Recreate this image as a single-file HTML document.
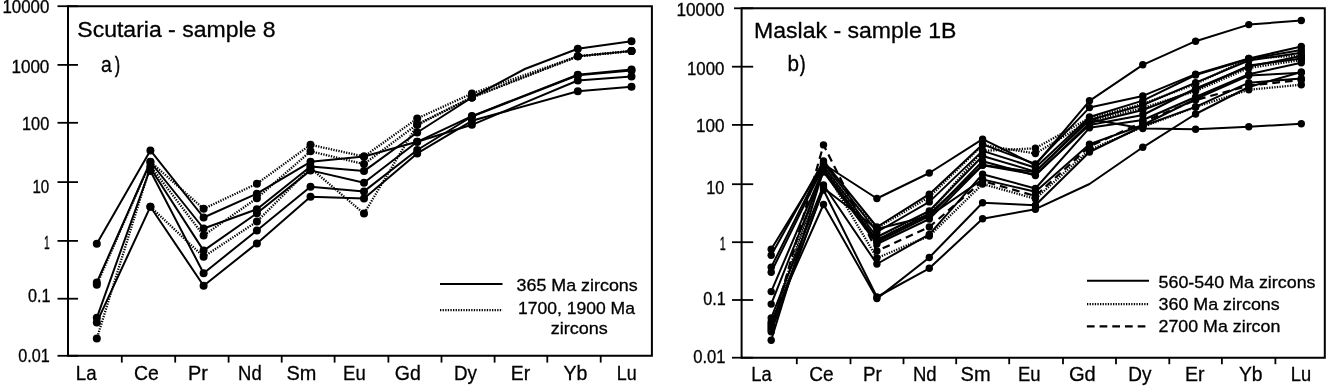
<!DOCTYPE html>
<html><head><meta charset="utf-8"><title>REE patterns</title>
<style>
html,body{margin:0;padding:0;background:#fff;}
body{width:1327px;height:386px;overflow:hidden;position:relative;font-family:"Liberation Sans",sans-serif;}
svg{position:absolute;left:0;top:0;display:block;filter:blur(0.35px);}
text{font-family:"Liberation Sans",sans-serif;fill:#000;stroke:#000;stroke-width:0.3px;}
.ax{stroke:#000;stroke-width:2;fill:none;stroke-linecap:butt;}
.tk{stroke:#000;stroke-width:1.8;fill:none;}
.ls{stroke:#000;stroke-width:2;fill:none;stroke-linejoin:round;}
.ld{stroke:#000;stroke-width:2.3;fill:none;stroke-dasharray:1.3 1.3;}
.lh{stroke:#000;stroke-width:2.2;fill:none;stroke-dasharray:7.7 5;}
.mk circle{fill:#000;}
.pp{stroke-width:0.7px;}
.yl{font-size:16.8px;text-anchor:end;}
.xl{font-size:20.5px;}
.tt{font-size:21.4px;}
.lg{font-size:16.6px;}
</style></head><body>
<svg width="1327" height="386" viewBox="0 0 1327 386">
<rect x="0" y="0" width="1327" height="386" fill="#fff"/>

<!-- left panel frame -->
<path class="ax" d="M68.0 6.2 H651.9 V355.8 H68.0 Z"/>
<path class="tk" d="M57.5 6.2 H78.0"/>
<text transform="translate(2.50 12.80) scale(0.9586 1)" font-size="17.60">10000</text>
<path class="tk" d="M57.5 64.9 H78.0"/>
<text transform="translate(11.40 73.00) scale(0.9704 1)" font-size="17.60">1000</text>
<path class="tk" d="M57.5 122.8 H78.0"/>
<text transform="translate(22.00 129.70) scale(0.9268 1)" font-size="17.60">100</text>
<path class="tk" d="M57.5 182.1 H78.0"/>
<text transform="translate(32.40 192.90) scale(0.8580 1)" font-size="17.60">10</text>
<path class="tk" d="M57.5 240.9 H78.0"/>
<text transform="translate(44.00 248.60) scale(0.5835 1)" font-size="17.60">1</text>
<path class="tk" d="M57.5 298.7 H78.0"/>
<text transform="translate(28.00 302.20) scale(0.9197 1)" font-size="17.60">0.1</text>
<path class="tk" d="M57.5 355.8 H78.0"/>
<text transform="translate(18.30 362.00) scale(0.9190 1)" font-size="17.60">0.01</text>
<path class="tk" d="M121.8 355.8 V362.6"/>
<path class="tk" d="M175.2 355.8 V362.6"/>
<path class="tk" d="M228.6 355.8 V362.6"/>
<path class="tk" d="M281.7 355.8 V362.6"/>
<path class="tk" d="M334.6 355.8 V362.6"/>
<path class="tk" d="M388.4 355.8 V362.6"/>
<path class="tk" d="M441.5 355.8 V362.6"/>
<path class="tk" d="M494.6 355.8 V362.6"/>
<path class="tk" d="M547.3 355.8 V362.6"/>
<path class="tk" d="M600.7 355.8 V362.6"/>
<text transform="translate(75.80 379.50) scale(0.8903 1)" font-size="21.00">La</text>
<text transform="translate(133.90 379.50) scale(0.9244 1)" font-size="21.00">Ce</text>
<text transform="translate(188.10 379.50) scale(0.9476 1)" font-size="21.00">Pr</text>
<text transform="translate(238.10 379.50) scale(0.8797 1)" font-size="21.00">Nd</text>
<text transform="translate(286.40 379.50) scale(0.9492 1)" font-size="21.00">Sm</text>
<text transform="translate(343.10 379.50) scale(0.8803 1)" font-size="21.00">Eu</text>
<text transform="translate(394.70 379.50) scale(0.9310 1)" font-size="21.00">Gd</text>
<text transform="translate(453.90 379.50) scale(0.8959 1)" font-size="21.00">Dy</text>
<text transform="translate(510.70 379.50) scale(0.9238 1)" font-size="21.00">Er</text>
<text transform="translate(563.40 379.50) scale(0.9310 1)" font-size="21.00">Yb</text>
<text transform="translate(616.80 379.50) scale(0.8518 1)" font-size="21.00">Lu</text>
<text transform="translate(77.30 37.40) scale(1.0235 1)" font-size="22.50">Scutaria - sample 8</text>
<text transform="translate(101.00 72.20) scale(0.8572 1)" font-size="22.60">a</text>
<text class="pp" transform="translate(114.90 71.80) scale(0.6835 1)" font-size="22.00">)</text>
<path class="ls" style="stroke-width:1.1" d="M577.8 56.3 L631.5 51.0"/>
<path class="ls" d="M96.8 243.8 L150.4 150.4 L203.6 217.5 L256.9 193.7 L310.5 161.8 L364.0 156.5 L417.2 141.8 L471.9 124.8 L577.8 80.5 L631.5 76.4"/>
<path class="ls" d="M96.8 282.4 L150.4 162.0 L203.6 228.5 L256.9 209.2 L310.5 166.5 L364.0 171.1 L417.2 132.5 L471.9 97.5 L524.8 69.0 L577.8 48.8 L631.5 41.2"/>
<path class="ls" d="M96.8 317.8 L150.4 168.0 L203.6 250.6 L256.9 213.3 L310.5 170.4 L364.0 182.8 L417.2 141.8 L471.9 116.1 L577.8 74.7 L631.5 69.6"/>
<path class="ls" d="M150.4 171.0 L203.6 273.2 L256.9 230.5 L310.5 186.8 L364.0 191.4 L417.2 150.0 L471.9 116.5 L577.8 75.2 L631.5 70.6"/>
<path class="ls" d="M96.8 322.4 L150.4 206.7 L203.6 285.7 L256.9 243.4 L310.5 196.8 L364.0 198.4 L417.2 153.4 L471.9 120.8 L577.8 91.3 L631.5 86.8"/>
<path class="ld" d="M96.8 284.7 L150.4 161.8 L203.6 208.8 L256.9 183.7 L310.5 144.8 L364.0 156.5 L417.2 118.5 L471.9 93.5 L577.8 56.3 L631.5 51.0"/>
<path class="ld" stroke-dashoffset="0.9" d="M96.8 338.6 L150.4 166.0 L203.6 235.5 L256.9 198.2 L310.5 151.3 L364.0 164.1 L417.2 124.3 L471.9 97.4 L577.8 56.3 L631.5 51.0"/>
<path class="ld" stroke-dashoffset="1.7" d="M150.4 206.7 L203.6 256.8 L256.9 221.6 L310.5 168.0 L364.0 213.6 L417.2 125.0 L471.9 97.4 L577.8 56.3 L631.5 51.0"/>
<g class="mk"><circle cx="96.8" cy="243.8" r="4.00"/><circle cx="150.4" cy="150.4" r="4.00"/><circle cx="203.6" cy="217.5" r="4.00"/><circle cx="256.9" cy="193.7" r="4.00"/><circle cx="310.5" cy="161.8" r="4.00"/><circle cx="364.0" cy="156.5" r="4.00"/><circle cx="417.2" cy="141.8" r="4.00"/><circle cx="471.9" cy="124.8" r="4.00"/><circle cx="577.8" cy="80.5" r="4.00"/><circle cx="631.5" cy="76.4" r="4.00"/><circle cx="96.8" cy="282.4" r="4.00"/><circle cx="150.4" cy="162.0" r="4.00"/><circle cx="203.6" cy="228.5" r="4.00"/><circle cx="256.9" cy="209.2" r="4.00"/><circle cx="310.5" cy="166.5" r="4.00"/><circle cx="364.0" cy="171.1" r="4.00"/><circle cx="417.2" cy="132.5" r="4.00"/><circle cx="471.9" cy="97.5" r="4.00"/><circle cx="577.8" cy="48.8" r="4.00"/><circle cx="631.5" cy="41.2" r="4.00"/><circle cx="96.8" cy="317.8" r="4.00"/><circle cx="150.4" cy="168.0" r="4.00"/><circle cx="203.6" cy="250.6" r="4.00"/><circle cx="256.9" cy="213.3" r="4.00"/><circle cx="310.5" cy="170.4" r="4.00"/><circle cx="364.0" cy="182.8" r="4.00"/><circle cx="417.2" cy="141.8" r="4.00"/><circle cx="471.9" cy="116.1" r="4.00"/><circle cx="577.8" cy="74.7" r="4.00"/><circle cx="631.5" cy="69.6" r="4.00"/><circle cx="150.4" cy="171.0" r="4.00"/><circle cx="203.6" cy="273.2" r="4.00"/><circle cx="256.9" cy="230.5" r="4.00"/><circle cx="310.5" cy="186.8" r="4.00"/><circle cx="364.0" cy="191.4" r="4.00"/><circle cx="417.2" cy="150.0" r="4.00"/><circle cx="471.9" cy="116.5" r="4.00"/><circle cx="577.8" cy="75.2" r="4.00"/><circle cx="631.5" cy="70.6" r="4.00"/><circle cx="96.8" cy="322.4" r="4.00"/><circle cx="150.4" cy="206.7" r="4.00"/><circle cx="203.6" cy="285.7" r="4.00"/><circle cx="256.9" cy="243.4" r="4.00"/><circle cx="310.5" cy="196.8" r="4.00"/><circle cx="364.0" cy="198.4" r="4.00"/><circle cx="417.2" cy="153.4" r="4.00"/><circle cx="471.9" cy="120.8" r="4.00"/><circle cx="577.8" cy="91.3" r="4.00"/><circle cx="631.5" cy="86.8" r="4.00"/><circle cx="96.8" cy="284.7" r="4.00"/><circle cx="150.4" cy="161.8" r="4.00"/><circle cx="203.6" cy="208.8" r="4.00"/><circle cx="256.9" cy="183.7" r="4.00"/><circle cx="310.5" cy="144.8" r="4.00"/><circle cx="364.0" cy="156.5" r="4.00"/><circle cx="417.2" cy="118.5" r="4.00"/><circle cx="471.9" cy="93.5" r="4.00"/><circle cx="577.8" cy="56.3" r="4.00"/><circle cx="631.5" cy="51.0" r="4.00"/><circle cx="96.8" cy="338.6" r="4.00"/><circle cx="150.4" cy="166.0" r="4.00"/><circle cx="203.6" cy="235.5" r="4.00"/><circle cx="256.9" cy="198.2" r="4.00"/><circle cx="310.5" cy="151.3" r="4.00"/><circle cx="364.0" cy="164.1" r="4.00"/><circle cx="417.2" cy="124.3" r="4.00"/><circle cx="471.9" cy="97.4" r="4.00"/><circle cx="577.8" cy="56.3" r="4.00"/><circle cx="631.5" cy="51.0" r="4.00"/><circle cx="150.4" cy="206.7" r="4.00"/><circle cx="203.6" cy="256.8" r="4.00"/><circle cx="256.9" cy="221.6" r="4.00"/><circle cx="310.5" cy="168.0" r="4.00"/><circle cx="364.0" cy="213.6" r="4.00"/><circle cx="417.2" cy="125.0" r="4.00"/><circle cx="471.9" cy="97.4" r="4.00"/><circle cx="577.8" cy="56.3" r="4.00"/><circle cx="631.5" cy="51.0" r="4.00"/></g>
<path class="ls" style="stroke-width:2" d="M440 284 H502.5"/>
<path class="ld" d="M440 310.2 H502.5"/>
<text transform="translate(516.60 291.00) scale(1.0641 1)" font-size="16.80">365 Ma zircons</text>
<text transform="translate(518.00 313.70) scale(1.0437 1)" font-size="16.80">1700, 1900 Ma</text>
<text transform="translate(550.80 333.80) scale(1.0711 1)" font-size="16.80">zircons</text>
<!-- right panel frame -->
<path class="ax" d="M741.6 8.3 H1324.8 V357.7 H741.6 Z"/>
<path class="tk" d="M734.0 8.3 H753.2"/>
<text transform="translate(676.40 16.00) scale(0.9810 1)" font-size="17.60">10000</text>
<path class="tk" d="M732.0 66.7 H753.2"/>
<text transform="translate(687.00 75.10) scale(0.9551 1)" font-size="17.60">1000</text>
<path class="tk" d="M732.0 124.9 H753.2"/>
<text transform="translate(695.90 131.50) scale(0.9711 1)" font-size="17.60">100</text>
<path class="tk" d="M732.0 184.2 H753.2"/>
<text transform="translate(706.30 194.20) scale(0.9244 1)" font-size="17.60">10</text>
<path class="tk" d="M732.0 242.2 H753.2"/>
<text transform="translate(719.70 250.40) scale(0.6143 1)" font-size="17.60">1</text>
<path class="tk" d="M732.0 300.0 H753.2"/>
<text transform="translate(703.20 305.30) scale(0.9197 1)" font-size="17.60">0.1</text>
<path class="tk" d="M732.0 357.7 H753.2"/>
<text transform="translate(693.20 363.40) scale(0.9424 1)" font-size="17.60">0.01</text>
<path class="tk" d="M796.8 357.7 V364.2"/>
<path class="tk" d="M850.5 357.7 V364.2"/>
<path class="tk" d="M903.5 357.7 V364.2"/>
<path class="tk" d="M956.2 357.7 V364.2"/>
<path class="tk" d="M1009.2 357.7 V364.2"/>
<path class="tk" d="M1063.0 357.7 V364.2"/>
<path class="tk" d="M1116.0 357.7 V364.2"/>
<path class="tk" d="M1169.3 357.7 V364.2"/>
<path class="tk" d="M1221.9 357.7 V364.2"/>
<path class="tk" d="M1275.4 357.7 V364.2"/>
<text transform="translate(751.20 380.70) scale(0.8732 1)" font-size="21.00">La</text>
<text transform="translate(809.30 380.70) scale(0.9095 1)" font-size="21.00">Ce</text>
<text transform="translate(863.00 380.70) scale(0.8952 1)" font-size="21.00">Pr</text>
<text transform="translate(912.90 380.70) scale(0.8834 1)" font-size="21.00">Nd</text>
<text transform="translate(960.60 380.70) scale(0.9556 1)" font-size="21.00">Sm</text>
<text transform="translate(1018.00 380.70) scale(0.8803 1)" font-size="21.00">Eu</text>
<text transform="translate(1068.90 380.70) scale(0.9595 1)" font-size="21.00">Gd</text>
<text transform="translate(1128.20 380.70) scale(0.9037 1)" font-size="21.00">Dy</text>
<text transform="translate(1185.00 380.70) scale(0.9286 1)" font-size="21.00">Er</text>
<text transform="translate(1239.00 380.70) scale(0.9193 1)" font-size="21.00">Yb</text>
<text transform="translate(1290.80 380.70) scale(0.8732 1)" font-size="21.00">Lu</text>
<text transform="translate(754.10 38.00) scale(1.0337 1)" font-size="22.30">Maslak - sample 1B</text>
<text transform="translate(787.40 71.00) scale(0.9250 1)" font-size="22.40">b</text>
<text class="pp" transform="translate(799.90 71.00) scale(0.7382 1)" font-size="22.00">)</text>
<path class="ls" d="M771.2 249.3 L823.5 164.0 L876.9 198.5 L929.3 173.0 L982.6 139.2 L1035.4 165.0 L1089.5 100.8 L1142.8 64.8 L1195.6 41.2 L1248.8 24.6 L1301.3 20.5"/>
<path class="ls" d="M771.2 255.3 L823.5 161.0 L876.9 227.0 L929.3 194.2 L982.6 144.4 L1035.4 163.9 L1089.5 107.6 L1142.8 95.9 L1195.6 74.2 L1248.8 58.5 L1301.3 46.5"/>
<path class="ls" d="M771.2 267.2 L823.5 163.0 L876.9 232.0 L929.3 201.9 L982.6 150.9 L1035.4 167.7 L1089.5 117.0 L1142.8 100.6 L1195.6 75.0 L1248.8 59.0 L1301.3 50.0"/>
<path class="ls" d="M771.2 272.2 L823.5 166.0 L876.9 237.0 L929.3 211.0 L982.6 156.0 L1035.4 171.6 L1089.5 120.0 L1142.8 105.0 L1195.6 82.7 L1248.8 60.5 L1301.3 52.8"/>
<path class="ls" d="M771.2 291.6 L823.5 169.0 L876.9 242.0 L929.3 216.0 L982.6 161.3 L1035.4 175.5 L1089.5 123.0 L1142.8 110.0 L1195.6 89.8 L1248.8 65.6 L1301.3 58.5"/>
<path class="ls" d="M771.2 304.1 L823.5 172.0 L876.9 244.0 L929.3 219.0 L982.6 165.2 L1035.4 174.5 L1089.5 125.0 L1142.8 115.0 L1195.6 88.5 L1248.8 66.5 L1301.3 56.0"/>
<path class="ls" d="M771.2 318.0 L823.5 185.0 L876.9 264.0 L929.3 234.4 L982.6 174.2 L1035.4 188.5 L1089.5 127.8 L1142.8 120.0 L1195.6 97.0 L1248.8 74.2 L1301.3 62.8"/>
<path class="ls" d="M771.2 331.8 L823.5 188.0 L876.9 229.0 L929.3 216.0 L982.6 179.4 L1035.4 191.8 L1089.5 144.2 L1142.8 125.0 L1195.6 99.0 L1248.8 75.5 L1301.3 72.7"/>
<path class="ls" d="M771.2 340.2 L823.5 170.0 L876.9 240.0 L929.3 214.0 L982.6 165.0 L1035.4 172.0 L1089.5 119.0 L1142.8 128.6 L1195.6 129.3 L1248.8 126.7 L1301.3 123.8"/>
<path class="ls" d="M771.2 322.0 L823.5 204.5 L876.9 298.6 L929.3 257.5 L982.6 202.7 L1035.4 205.3 L1089.5 152.0 L1142.8 126.0 L1195.6 106.9 L1248.8 82.7 L1301.3 78.4"/>
<path class="ls" d="M771.2 326.0 L823.5 190.0 L876.9 297.0 L929.3 268.3 L982.6 218.8 L1035.4 209.2 L1089.5 184.0 L1142.8 147.3 L1195.6 114.0 L1248.8 87.0 L1301.3 72.0"/>
<path class="ld" d="M771.2 324.0 L823.5 165.0 L876.9 240.0 L929.3 213.0 L982.6 150.9 L1035.4 148.3 L1089.5 118.0 L1142.8 104.0 L1195.6 84.0 L1248.8 58.5 L1301.3 55.6"/>
<path class="ld" d="M771.2 328.0 L823.5 168.0 L876.9 258.0 L929.3 236.0 L982.6 184.0 L1035.4 198.8 L1089.5 150.0 L1142.8 127.0 L1195.6 107.0 L1248.8 89.8 L1301.3 84.7"/>
<path class="ld" d="M823.5 171.0 L876.9 228.0 L929.3 197.0 L982.6 145.0 L1035.4 153.5 L1089.5 121.0 L1142.8 108.0 L1195.6 91.0 L1248.8 68.0 L1301.3 60.0"/>
<path class="lh" d="M771.2 330.0 L823.5 144.9 L876.9 251.0 L929.3 227.0 L982.6 181.0 L1035.4 196.0 L1089.5 146.5 L1142.8 122.0 L1195.6 100.0 L1248.8 85.6 L1301.3 79.9"/>
<g class="mk"><circle cx="771.2" cy="249.3" r="3.70"/><circle cx="823.5" cy="164.0" r="3.70"/><circle cx="876.9" cy="198.5" r="3.70"/><circle cx="929.3" cy="173.0" r="3.70"/><circle cx="982.6" cy="139.2" r="3.70"/><circle cx="1035.4" cy="165.0" r="3.70"/><circle cx="1089.5" cy="100.8" r="3.70"/><circle cx="1142.8" cy="64.8" r="3.70"/><circle cx="1195.6" cy="41.2" r="3.70"/><circle cx="1248.8" cy="24.6" r="3.70"/><circle cx="1301.3" cy="20.5" r="3.70"/><circle cx="771.2" cy="255.3" r="3.70"/><circle cx="823.5" cy="161.0" r="3.70"/><circle cx="876.9" cy="227.0" r="3.70"/><circle cx="929.3" cy="194.2" r="3.70"/><circle cx="982.6" cy="144.4" r="3.70"/><circle cx="1035.4" cy="163.9" r="3.70"/><circle cx="1089.5" cy="107.6" r="3.70"/><circle cx="1142.8" cy="95.9" r="3.70"/><circle cx="1195.6" cy="74.2" r="3.70"/><circle cx="1248.8" cy="58.5" r="3.70"/><circle cx="1301.3" cy="46.5" r="3.70"/><circle cx="771.2" cy="267.2" r="3.70"/><circle cx="823.5" cy="163.0" r="3.70"/><circle cx="876.9" cy="232.0" r="3.70"/><circle cx="929.3" cy="201.9" r="3.70"/><circle cx="982.6" cy="150.9" r="3.70"/><circle cx="1035.4" cy="167.7" r="3.70"/><circle cx="1089.5" cy="117.0" r="3.70"/><circle cx="1142.8" cy="100.6" r="3.70"/><circle cx="1195.6" cy="75.0" r="3.70"/><circle cx="1248.8" cy="59.0" r="3.70"/><circle cx="1301.3" cy="50.0" r="3.70"/><circle cx="771.2" cy="272.2" r="3.70"/><circle cx="823.5" cy="166.0" r="3.70"/><circle cx="876.9" cy="237.0" r="3.70"/><circle cx="929.3" cy="211.0" r="3.70"/><circle cx="982.6" cy="156.0" r="3.70"/><circle cx="1035.4" cy="171.6" r="3.70"/><circle cx="1089.5" cy="120.0" r="3.70"/><circle cx="1142.8" cy="105.0" r="3.70"/><circle cx="1195.6" cy="82.7" r="3.70"/><circle cx="1248.8" cy="60.5" r="3.70"/><circle cx="1301.3" cy="52.8" r="3.70"/><circle cx="771.2" cy="291.6" r="3.70"/><circle cx="823.5" cy="169.0" r="3.70"/><circle cx="876.9" cy="242.0" r="3.70"/><circle cx="929.3" cy="216.0" r="3.70"/><circle cx="982.6" cy="161.3" r="3.70"/><circle cx="1035.4" cy="175.5" r="3.70"/><circle cx="1089.5" cy="123.0" r="3.70"/><circle cx="1142.8" cy="110.0" r="3.70"/><circle cx="1195.6" cy="89.8" r="3.70"/><circle cx="1248.8" cy="65.6" r="3.70"/><circle cx="1301.3" cy="58.5" r="3.70"/><circle cx="771.2" cy="304.1" r="3.70"/><circle cx="823.5" cy="172.0" r="3.70"/><circle cx="876.9" cy="244.0" r="3.70"/><circle cx="929.3" cy="219.0" r="3.70"/><circle cx="982.6" cy="165.2" r="3.70"/><circle cx="1035.4" cy="174.5" r="3.70"/><circle cx="1089.5" cy="125.0" r="3.70"/><circle cx="1142.8" cy="115.0" r="3.70"/><circle cx="1195.6" cy="88.5" r="3.70"/><circle cx="1248.8" cy="66.5" r="3.70"/><circle cx="1301.3" cy="56.0" r="3.70"/><circle cx="771.2" cy="318.0" r="3.70"/><circle cx="823.5" cy="185.0" r="3.70"/><circle cx="876.9" cy="264.0" r="3.70"/><circle cx="929.3" cy="234.4" r="3.70"/><circle cx="982.6" cy="174.2" r="3.70"/><circle cx="1035.4" cy="188.5" r="3.70"/><circle cx="1089.5" cy="127.8" r="3.70"/><circle cx="1142.8" cy="120.0" r="3.70"/><circle cx="1195.6" cy="97.0" r="3.70"/><circle cx="1248.8" cy="74.2" r="3.70"/><circle cx="1301.3" cy="62.8" r="3.70"/><circle cx="771.2" cy="331.8" r="3.70"/><circle cx="823.5" cy="188.0" r="3.70"/><circle cx="876.9" cy="229.0" r="3.70"/><circle cx="929.3" cy="216.0" r="3.70"/><circle cx="982.6" cy="179.4" r="3.70"/><circle cx="1035.4" cy="191.8" r="3.70"/><circle cx="1089.5" cy="144.2" r="3.70"/><circle cx="1142.8" cy="125.0" r="3.70"/><circle cx="1195.6" cy="99.0" r="3.70"/><circle cx="1248.8" cy="75.5" r="3.70"/><circle cx="1301.3" cy="72.7" r="3.70"/><circle cx="771.2" cy="340.2" r="3.70"/><circle cx="823.5" cy="170.0" r="3.70"/><circle cx="876.9" cy="240.0" r="3.70"/><circle cx="929.3" cy="214.0" r="3.70"/><circle cx="982.6" cy="165.0" r="3.70"/><circle cx="1035.4" cy="172.0" r="3.70"/><circle cx="1089.5" cy="119.0" r="3.70"/><circle cx="1142.8" cy="128.6" r="3.70"/><circle cx="1195.6" cy="129.3" r="3.70"/><circle cx="1248.8" cy="126.7" r="3.70"/><circle cx="1301.3" cy="123.8" r="3.70"/><circle cx="771.2" cy="322.0" r="3.70"/><circle cx="823.5" cy="204.5" r="3.70"/><circle cx="876.9" cy="298.6" r="3.70"/><circle cx="929.3" cy="257.5" r="3.70"/><circle cx="982.6" cy="202.7" r="3.70"/><circle cx="1035.4" cy="205.3" r="3.70"/><circle cx="1089.5" cy="152.0" r="3.70"/><circle cx="1142.8" cy="126.0" r="3.70"/><circle cx="1195.6" cy="106.9" r="3.70"/><circle cx="1248.8" cy="82.7" r="3.70"/><circle cx="1301.3" cy="78.4" r="3.70"/><circle cx="771.2" cy="326.0" r="3.70"/><circle cx="823.5" cy="190.0" r="3.70"/><circle cx="876.9" cy="297.0" r="3.70"/><circle cx="929.3" cy="268.3" r="3.70"/><circle cx="982.6" cy="218.8" r="3.70"/><circle cx="1035.4" cy="209.2" r="3.70"/><circle cx="1142.8" cy="147.3" r="3.70"/><circle cx="1195.6" cy="114.0" r="3.70"/><circle cx="1248.8" cy="87.0" r="3.70"/><circle cx="1301.3" cy="72.0" r="3.70"/><circle cx="771.2" cy="324.0" r="3.70"/><circle cx="823.5" cy="165.0" r="3.70"/><circle cx="876.9" cy="240.0" r="3.70"/><circle cx="929.3" cy="213.0" r="3.70"/><circle cx="982.6" cy="150.9" r="3.70"/><circle cx="1035.4" cy="148.3" r="3.70"/><circle cx="1089.5" cy="118.0" r="3.70"/><circle cx="1142.8" cy="104.0" r="3.70"/><circle cx="1195.6" cy="84.0" r="3.70"/><circle cx="1248.8" cy="58.5" r="3.70"/><circle cx="1301.3" cy="55.6" r="3.70"/><circle cx="771.2" cy="328.0" r="3.70"/><circle cx="823.5" cy="168.0" r="3.70"/><circle cx="876.9" cy="258.0" r="3.70"/><circle cx="929.3" cy="236.0" r="3.70"/><circle cx="982.6" cy="184.0" r="3.70"/><circle cx="1035.4" cy="198.8" r="3.70"/><circle cx="1089.5" cy="150.0" r="3.70"/><circle cx="1142.8" cy="127.0" r="3.70"/><circle cx="1195.6" cy="107.0" r="3.70"/><circle cx="1248.8" cy="89.8" r="3.70"/><circle cx="1301.3" cy="84.7" r="3.70"/><circle cx="823.5" cy="171.0" r="3.70"/><circle cx="876.9" cy="228.0" r="3.70"/><circle cx="929.3" cy="197.0" r="3.70"/><circle cx="982.6" cy="145.0" r="3.70"/><circle cx="1035.4" cy="153.5" r="3.70"/><circle cx="1089.5" cy="121.0" r="3.70"/><circle cx="1142.8" cy="108.0" r="3.70"/><circle cx="1195.6" cy="91.0" r="3.70"/><circle cx="1248.8" cy="68.0" r="3.70"/><circle cx="1301.3" cy="60.0" r="3.70"/><circle cx="771.2" cy="330.0" r="3.70"/><circle cx="823.5" cy="144.9" r="3.70"/><circle cx="876.9" cy="251.0" r="3.70"/><circle cx="929.3" cy="227.0" r="3.70"/><circle cx="982.6" cy="181.0" r="3.70"/><circle cx="1035.4" cy="196.0" r="3.70"/><circle cx="1089.5" cy="146.5" r="3.70"/><circle cx="1142.8" cy="122.0" r="3.70"/><circle cx="1195.6" cy="100.0" r="3.70"/><circle cx="1248.8" cy="85.6" r="3.70"/><circle cx="1301.3" cy="79.9" r="3.70"/></g>
<path class="ls" style="stroke-width:2" d="M1087 280.7 H1149"/>
<path class="ld" d="M1087 304.1 H1149"/>
<path class="lh" d="M1086.9 326.3 H1146"/>
<text transform="translate(1158.50 287.60) scale(1.0648 1)" font-size="16.80">560-540 Ma zircons</text>
<text transform="translate(1158.50 309.70) scale(1.0649 1)" font-size="16.80">360 Ma zircons</text>
<text transform="translate(1158.50 331.50) scale(1.0612 1)" font-size="16.80">2700 Ma zircon</text>
</svg>
</body></html>
